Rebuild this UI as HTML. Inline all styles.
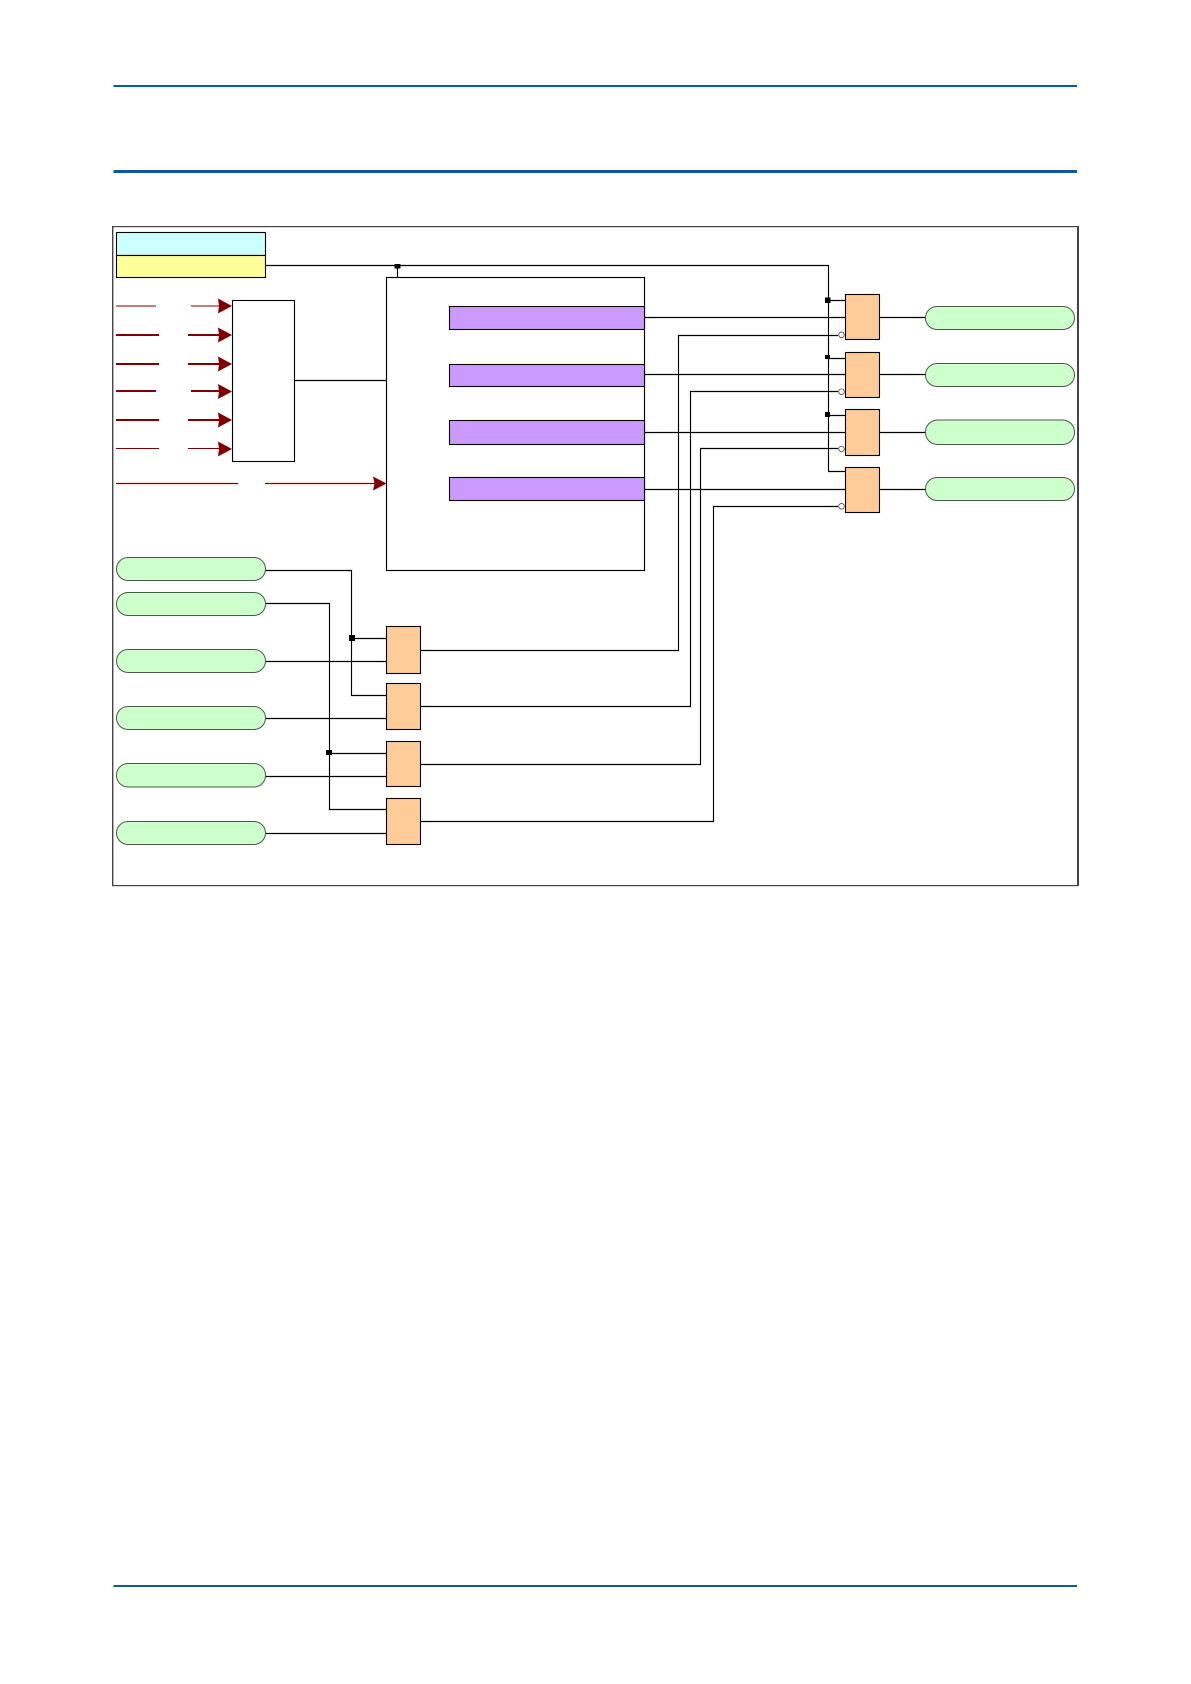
<!DOCTYPE html>
<html>
<head>
<meta charset="utf-8">
<style>
html,body{margin:0;padding:0;background:#fff;width:1191px;height:1684px;overflow:hidden}
svg{display:block}
</style>
</head>
<body>
<svg xmlns="http://www.w3.org/2000/svg" width="1191" height="1684" viewBox="0 0 1191 1684">
<rect width="1191" height="1684" fill="#fff"/>
<!-- header/footer rules -->
<rect x="113.5" y="85" width="963.5" height="2" fill="#0b5aa3"/>
<rect x="113.5" y="170" width="963.5" height="3" fill="#0b5aa3"/>
<rect x="113.5" y="1585" width="963.5" height="2" fill="#0b5aa3"/>
<!-- frame -->
<g fill="#444">
<rect x="112" y="226" width="966" height="1.2"/>
<rect x="112" y="226" width="1.4" height="660"/>
<rect x="112" y="885" width="966" height="1.2"/>
<rect x="1077" y="226" width="2" height="660"/>
</g>
<!-- connectors -->
<g fill="none" stroke="#000" stroke-width="1.15">
<path d="M265.5 265.5H828.5V471.5H845.5"/>
<path d="M397.5 265.5V277.5"/>
<path d="M294.5 380.5H386.5"/>
<path d="M828.5 300.5H845.5M828.5 358.5H845.5M828.5 415.5H845.5"/>
<path d="M644.5 317.5H845.5M644.5 374.5H845.5M644.5 432.5H845.5M644.5 489.5H845.5"/>
<path d="M879.5 317.5H925.5M879.5 374.5H925.5M879.5 432.5H925.5M879.5 489.5H925.5"/>
<path d="M420.5 650.5H678.5V335.5H838"/>
<path d="M420.5 706.5H690.5V391.5H838"/>
<path d="M420.5 764.5H700.5V448.5H838"/>
<path d="M420.5 821.5H713.5V506.5H838"/>
<path d="M265.5 570.5H351.5V695.5H386.5"/>
<path d="M351.5 638.5H386.5"/>
<path d="M265.5 603.5H329.5V809.5H386.5"/>
<path d="M329.5 753.5H386.5"/>
<path d="M265.5 661.5H386.5M265.5 718.5H386.5M265.5 776.5H386.5M265.5 833.5H386.5"/>
</g>
<!-- header boxes -->
<rect x="116.5" y="232.5" width="149" height="23" fill="#ccffff" stroke="#000" stroke-width="1.1"/>
<rect x="116.5" y="255.5" width="149" height="22" fill="#ffff99" stroke="#000" stroke-width="1.1"/>
<!-- white boxes -->
<rect x="386.5" y="277.5" width="258" height="293" fill="none" stroke="#000" stroke-width="1.15"/>
<rect x="232.5" y="300.5" width="62" height="161" fill="#fff" stroke="#000" stroke-width="1.1"/>
<!-- purple -->
<g fill="#cc99ff" stroke="#000" stroke-width="1.1">
<rect x="449.5" y="306.5" width="195" height="23"/>
<rect x="449.5" y="364.5" width="195" height="22"/>
<rect x="449.5" y="420.5" width="195" height="24"/>
<rect x="449.5" y="477.5" width="195" height="23"/>
</g>
<!-- gates -->
<g fill="#ffcc99" stroke="#000" stroke-width="1.1">
<rect x="845.5" y="294.5" width="34" height="45"/>
<rect x="845.5" y="352.5" width="34" height="45"/>
<rect x="845.5" y="409.5" width="34" height="46"/>
<rect x="845.5" y="467.5" width="34" height="45"/>
<rect x="386.5" y="626.5" width="34" height="47"/>
<rect x="386.5" y="683.5" width="34" height="46"/>
<rect x="386.5" y="741.5" width="34" height="45"/>
<rect x="386.5" y="798.5" width="34" height="46"/>
</g>
<!-- pills -->
<g fill="#ccffcc" stroke="#4a5a4a">
<rect x="925.5" y="306.5" width="149" height="23" rx="11.5"/>
<rect x="925.5" y="363.5" width="149" height="23" rx="11.5"/>
<rect x="925.5" y="420" width="149" height="24.5" rx="12"/>
<rect x="925.5" y="477.5" width="149" height="23" rx="11.5"/>
<rect x="116.5" y="557.5" width="149" height="23" rx="11.5"/>
<rect x="116.5" y="592.5" width="149" height="23" rx="11.5"/>
<rect x="116.5" y="649.5" width="149" height="23" rx="11.5"/>
<rect x="116.5" y="706.5" width="149" height="23" rx="11.5"/>
<rect x="116.5" y="763.5" width="149" height="23.5" rx="11.5"/>
<rect x="116.5" y="821.5" width="149" height="23" rx="11.5"/>
</g>
<!-- bubbles -->
<g fill="#fff" stroke="#555" stroke-width="0.9">
<circle cx="841.5" cy="334.8" r="2.8"/>
<circle cx="841.5" cy="391.7" r="2.8"/>
<circle cx="841.5" cy="449" r="2.8"/>
<circle cx="841.5" cy="506.3" r="2.8"/>
</g>
<!-- junctions -->
<g fill="#000">
<rect x="394.5" y="264" width="6" height="4.5"/>
<rect x="825" y="297.5" width="5.5" height="5.5"/>
<rect x="825" y="355" width="5" height="4"/>
<rect x="825" y="412" width="5" height="5"/>
<rect x="349" y="635" width="6" height="6"/>
<rect x="326" y="750" width="6" height="5"/>
</g>
<!-- maroon arrows -->
<g fill="none" stroke="#800000">
<path stroke-width="1" d="M116 306H156M191 306H222"/>
<path stroke-width="2" d="M116 335H159M188 335H222"/>
<path stroke-width="2" d="M116 364H159M188 364H222"/>
<path stroke-width="2" d="M116 391H156M191 391H222"/>
<path stroke-width="2" d="M116 420H159M188 420H222"/>
<path stroke-width="1" d="M116 448.5H159M188 448.5H222"/>
<path stroke-width="1.2" d="M116 483.5H238M265 483.5H376"/>
</g>
<g fill="#800000">
<path d="M218 298.5L232 306L218 313.5L219 306Z"/>
<path d="M218 327.5L232 335L218 342.5L219 335Z"/>
<path d="M218 356.5L232 364L218 371.5L219 364Z"/>
<path d="M218 384L232 391.5L218 399L219 391.5Z"/>
<path d="M218 412.5L232 420L218 427.5L219 420Z"/>
<path d="M218 441.5L232 449L218 456.5L219 449Z"/>
<path d="M373 476.5L386.5 483.5L373 490.5L374.5 483.5Z"/>
</g>
</svg>
</body>
</html>
